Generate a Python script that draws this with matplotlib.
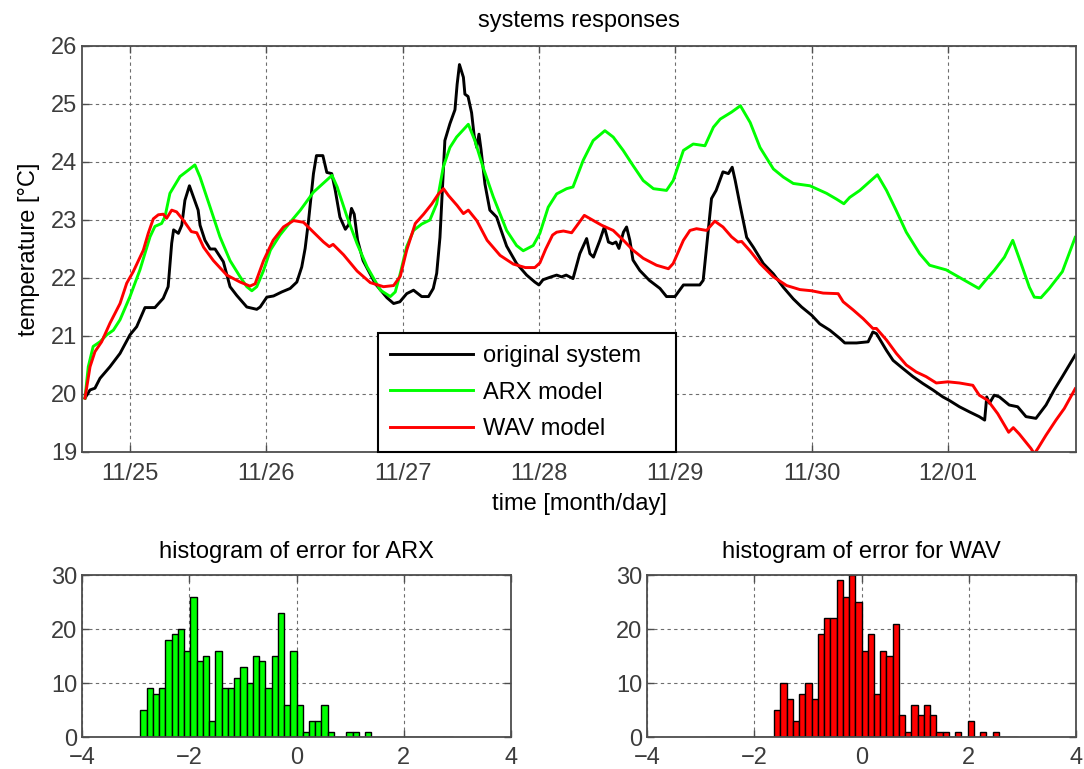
import numpy as np
import matplotlib
matplotlib.use('Agg')
import matplotlib.pyplot as plt

plt.rcParams['font.family'] = ['Liberation Sans', 'DejaVu Sans']

# ---------------- data ----------------
# time in days relative to 11/25 00:00
day_ticks = [0, 1, 2, 3, 4, 5, 6]
day_labels = ['11/25', '11/26', '11/27', '11/28', '11/29', '11/30', '12/01']

orig_t = [-0.33, -0.293, -0.257, -0.22, -0.147, -0.073, 0.0, 0.049, 0.11, 0.183, 0.244, 0.28, 0.306, 0.32,
          0.355, 0.38, 0.403, 0.436, 0.50, 0.514, 0.55, 0.588, 0.624, 0.685, 0.734, 0.783, 0.857, 0.93,
          0.955, 1.004, 1.053, 1.114, 1.175, 1.224, 1.26, 1.285, 1.31, 1.346, 1.368, 1.415, 1.444, 1.48,
          1.506, 1.54, 1.58, 1.605, 1.625, 1.645, 1.67, 1.71, 1.80, 1.885, 1.934, 1.98, 2.03, 2.08, 2.14,
          2.19, 2.225, 2.25, 2.274, 2.31, 2.347, 2.384, 2.40, 2.417, 2.446, 2.457, 2.48, 2.506, 2.525,
          2.544, 2.56, 2.575, 2.604, 2.64, 2.69, 2.714, 2.763, 2.836, 2.91, 2.97, 3.0, 3.03, 3.09, 3.13,
          3.166, 3.20, 3.25, 3.30, 3.35, 3.374, 3.40, 3.447, 3.48, 3.51, 3.54, 3.565, 3.587, 3.62, 3.643,
          3.667, 3.69, 3.74, 3.81, 3.888, 3.936, 3.998, 4.06, 4.18, 4.205, 4.23, 4.266, 4.30, 4.35, 4.39,
          4.418, 4.44, 4.476, 4.524, 4.573, 4.646, 4.72, 4.793, 4.866, 4.927, 5.0, 5.06, 5.134, 5.207,
          5.244, 5.33, 5.415, 5.45, 5.476, 5.55, 5.598, 5.67, 5.744, 5.817, 5.89, 5.963, 6.01, 6.085,
          6.16, 6.23, 6.27, 6.285, 6.305, 6.34, 6.378, 6.45, 6.512, 6.573, 6.646, 6.72, 6.78, 6.84, 6.934]
orig_y = [19.93, 20.07, 20.10, 20.27, 20.47, 20.70, 21.02, 21.16, 21.49, 21.49, 21.65, 21.85, 22.6, 22.83,
          22.77, 22.91, 23.34, 23.59, 23.17, 22.91, 22.65, 22.5, 22.5, 22.28, 21.85, 21.70, 21.50, 21.46,
          21.50, 21.67, 21.69, 21.76, 21.82, 21.93, 22.19, 22.51, 22.99, 23.80, 24.11, 24.11, 23.82, 23.80,
          23.51, 23.05, 22.84, 22.92, 23.20, 23.10, 22.65, 22.30, 21.90, 21.66, 21.56, 21.59, 21.73, 21.79,
          21.68, 21.68, 21.82, 22.08, 22.70, 24.37, 24.66, 24.90, 25.34, 25.68, 25.46, 25.17, 25.13, 24.85,
          24.45, 24.25, 24.48, 24.22, 23.62, 23.17, 23.05, 22.88, 22.55, 22.25, 22.05, 21.93, 21.88, 21.97,
          22.02, 22.05, 22.02, 22.05, 21.99, 22.42, 22.68, 22.42, 22.36, 22.65, 22.88, 22.62, 22.59, 22.62,
          22.51, 22.79, 22.88, 22.65, 22.31, 22.13, 21.96, 21.82, 21.68, 21.68, 21.88, 21.88, 21.96, 22.54,
          23.37, 23.51, 23.83, 23.80, 23.91, 23.68, 23.25, 22.7, 22.53, 22.25, 22.07, 21.84, 21.64, 21.50,
          21.36, 21.21, 21.10, 20.96, 20.88, 20.88, 20.90, 21.07, 21.04, 20.75, 20.58, 20.44, 20.30, 20.18,
          20.07, 19.95, 19.89, 19.78, 19.69, 19.61, 19.55, 19.95, 19.84, 19.98, 19.95, 19.81, 19.78, 19.61,
          19.58, 19.81, 20.07, 20.30, 20.67]

arx_t = [-0.33, -0.306, -0.27, -0.22, -0.17, -0.122, -0.073, 0.0, 0.073, 0.147, 0.183, 0.232, 0.257, 0.293,
         0.367, 0.428, 0.476, 0.514, 0.588, 0.66, 0.734, 0.808, 0.857, 0.894, 0.93, 0.98, 1.03, 1.10, 1.175,
         1.25, 1.346, 1.482, 1.52, 1.593, 1.666, 1.74, 1.837, 1.91, 1.946, 1.983, 2.03, 2.08, 2.14, 2.2,
         2.25, 2.298, 2.347, 2.396, 2.482, 2.53, 2.59, 2.665, 2.763, 2.836, 2.885, 2.958, 3.007, 3.068,
         3.13, 3.203, 3.25, 3.325, 3.398, 3.484, 3.545, 3.618, 3.69, 3.765, 3.84, 3.936, 3.985, 4.06,
         4.132, 4.218, 4.28, 4.33, 4.413, 4.478, 4.55, 4.622, 4.72, 4.793, 4.866, 4.988, 5.11, 5.183,
         5.237, 5.28, 5.354, 5.483, 5.55, 5.622, 5.695, 5.793, 5.866, 5.988, 6.085, 6.16, 6.227, 6.28,
         6.34, 6.415, 6.476, 6.537, 6.598, 6.634, 6.683, 6.744, 6.84, 6.934]
arx_y = [19.93, 20.47, 20.82, 20.9, 21.02, 21.10, 21.28, 21.68, 22.14, 22.71, 22.89, 22.94, 23.06, 23.46,
         23.75, 23.86, 23.95, 23.74, 23.22, 22.71, 22.30, 22.02, 21.85, 21.78, 21.85, 22.13, 22.48, 22.74,
         22.96, 23.17, 23.48, 23.77, 23.57, 23.05, 22.59, 22.19, 21.79, 21.68, 21.76, 22.08, 22.54, 22.82,
         22.93, 23.0, 23.28, 23.91, 24.25, 24.43, 24.65, 24.37, 23.91, 23.40, 22.82, 22.56, 22.47, 22.56,
         22.77, 23.22, 23.45, 23.54, 23.57, 24.03, 24.37, 24.54, 24.43, 24.20, 23.94, 23.68, 23.54, 23.51,
         23.68, 24.20, 24.31, 24.28, 24.60, 24.74, 24.86, 24.97, 24.68, 24.25, 23.88, 23.74, 23.63, 23.59,
         23.46, 23.36, 23.28, 23.39, 23.51, 23.78, 23.51, 23.16, 22.79, 22.42, 22.22, 22.14, 22.01, 21.91,
         21.82, 21.97, 22.13, 22.36, 22.65, 22.25, 21.84, 21.67, 21.66, 21.82, 22.11, 22.70]

wav_t = [-0.33, -0.293, -0.257, -0.208, -0.147, -0.073, -0.024, 0.024, 0.098, 0.134, 0.171, 0.208, 0.244,
         0.269, 0.306, 0.342, 0.39, 0.45, 0.49, 0.54, 0.612, 0.71, 0.808, 0.88, 0.918, 0.98, 1.05, 1.126,
         1.2, 1.273, 1.346, 1.42, 1.462, 1.49, 1.567, 1.666, 1.763, 1.86, 1.934, 1.983, 2.03, 2.093, 2.154,
         2.215, 2.263, 2.3, 2.337, 2.4, 2.446, 2.482, 2.544, 2.62, 2.715, 2.812, 2.9, 2.97, 3.007, 3.05,
         3.10, 3.13, 3.18, 3.24, 3.29, 3.333, 3.40, 3.46, 3.545, 3.62, 3.69, 3.765, 3.863, 3.95, 3.985,
         4.06, 4.108, 4.156, 4.23, 4.29, 4.35, 4.413, 4.46, 4.487, 4.548, 4.622, 4.72, 4.817, 4.915, 5.0,
         5.085, 5.195, 5.232, 5.305, 5.378, 5.45, 5.476, 5.55, 5.622, 5.695, 5.768, 5.84, 5.915, 6.0,
         6.085, 6.183, 6.23, 6.293, 6.366, 6.446, 6.48, 6.524, 6.61, 6.634, 6.66, 6.72, 6.793, 6.854, 6.934]
wav_y = [19.93, 20.47, 20.73, 20.9, 21.22, 21.56, 21.91, 22.11, 22.48, 22.77, 23.02, 23.09, 23.10, 23.03,
         23.17, 23.14, 23.0, 22.80, 22.78, 22.53, 22.30, 22.05, 21.93, 21.86, 21.90, 22.30, 22.65, 22.88,
         22.99, 22.96, 22.79, 22.62, 22.54, 22.58, 22.40, 22.12, 21.92, 21.85, 21.87, 22.03, 22.48, 22.94,
         23.10, 23.28, 23.45, 23.54, 23.42, 23.25, 23.11, 23.17, 22.99, 22.65, 22.39, 22.24, 22.18, 22.18,
         22.26, 22.50, 22.74, 22.79, 22.81, 22.78, 22.94, 23.08, 22.99, 22.91, 22.82, 22.65, 22.48, 22.34,
         22.22, 22.16, 22.25, 22.65, 22.82, 22.85, 22.82, 22.98, 22.88, 22.71, 22.62, 22.63, 22.47, 22.25,
         22.02, 21.87, 21.80, 21.78, 21.74, 21.73, 21.59, 21.45, 21.30, 21.13, 21.13, 20.93, 20.70, 20.50,
         20.38, 20.30, 20.19, 20.21, 20.19, 20.15, 19.98, 19.89, 19.66, 19.34, 19.42, 19.31, 19.06, 18.97,
         19.06, 19.29, 19.55, 19.75, 20.09]

# histogram bins (50 bins) and counts
bin_lo, bin_hi, n_bins = -2.91, 2.91, 50
arx_counts = [5, 9, 8, 9, 18, 19, 20, 16, 26, 14, 15, 3, 16, 9, 9, 11, 13, 10, 15, 14,
              9, 15, 23, 6, 16, 6, 1, 3, 3, 6, 1, 0, 0, 1, 1, 0, 1, 0, 0, 0,
              0, 0, 0, 0, 0, 0, 0, 0, 0, 0]
wav_counts = [0, 0, 0, 0, 0, 0, 0, 0, 0, 0, 0, 5, 10, 7, 3, 8, 10, 7, 19, 22,
              22, 29, 26, 30, 25, 16, 19, 8, 16, 15, 21, 4, 1, 6, 4, 6, 4, 1, 1, 0,
              1, 0, 3, 0, 1, 0, 1, 0, 0, 0]

# ---------------- style ----------------
W, H = 1084, 769
FS = 17
tick_color = '#3c3c3c'
spine_color = '#4d4d4d'
grid_kw = dict(color='#6e6e6e', linestyle=(0, (3, 3)), linewidth=0.8)


def style_axes(ax):
    for s in ax.spines.values():
        s.set_color(spine_color)
        s.set_linewidth(1.3)
    ax.tick_params(direction='in', length=5, width=1, colors=spine_color,
                   labelcolor=tick_color, labelsize=FS, top=True, right=True)
    ax.grid(True, **grid_kw)
    ax.set_axisbelow(True)


fig = plt.figure(figsize=(W / 100, H / 100), dpi=100)

# ---------------- top plot ----------------
ax = fig.add_axes([82 / W, 1 - 452 / H, (1076 - 82) / W, (452 - 46) / H])
ax.plot(orig_t, orig_y, color='black', lw=2.1, label='original system')
ax.plot(arx_t, arx_y, color='#00ff00', lw=2.1, label='ARX model')
ax.plot(wav_t, wav_y, color='#ff0000', lw=2.1, label='WAV model')
ax.set_xlim(-0.352, 6.94)
ax.set_ylim(19, 26)
ax.set_xticks(day_ticks)
ax.set_xticklabels(day_labels)
ax.set_yticks(range(19, 27))
style_axes(ax)
ax.tick_params(axis='x', pad=8)
ax.set_title('systems responses', fontsize=FS, pad=14)
ax.set_xlabel('time [month/day]', fontsize=FS, labelpad=6)
ax.set_ylabel('temperature [°C]', fontsize=FS, labelpad=8)
leg = ax.legend(loc='lower left', bbox_to_anchor=(0.298, 0.0, 0.30, 0.303),
                mode='expand', fontsize=FS, frameon=True, fancybox=False,
                handlelength=3.5, handletextpad=0.45, borderpad=0.5, labelspacing=0.62,
                borderaxespad=0.0)
leg.get_frame().set_edgecolor('black')
leg.get_frame().set_linewidth(1.5)
leg.get_frame().set_alpha(1)

# ---------------- histograms ----------------
edges = np.linspace(bin_lo, bin_hi, n_bins + 1)
centers = (edges[:-1] + edges[1:]) / 2
width = edges[1] - edges[0]

for left, counts, color, title in [(82, arx_counts, '#00ff00', 'histogram of error for ARX'),
                                   (647, wav_counts, '#ff0000', 'histogram of error for WAV')]:
    hx = fig.add_axes([left / W, 1 - 737 / H, 429 / W, (737 - 575) / H])
    hx.bar(centers, counts, width=width, color=color, edgecolor='black', linewidth=1.0)
    hx.set_xlim(-4, 4)
    hx.set_ylim(0, 30)
    hx.set_xticks([-4, -2, 0, 2, 4])
    hx.set_yticks([0, 10, 20, 30])
    style_axes(hx)
    hx.tick_params(axis='x', pad=7)
    hx.set_title(title, fontsize=FS, pad=12)

fig.savefig('out.png', dpi=100)
